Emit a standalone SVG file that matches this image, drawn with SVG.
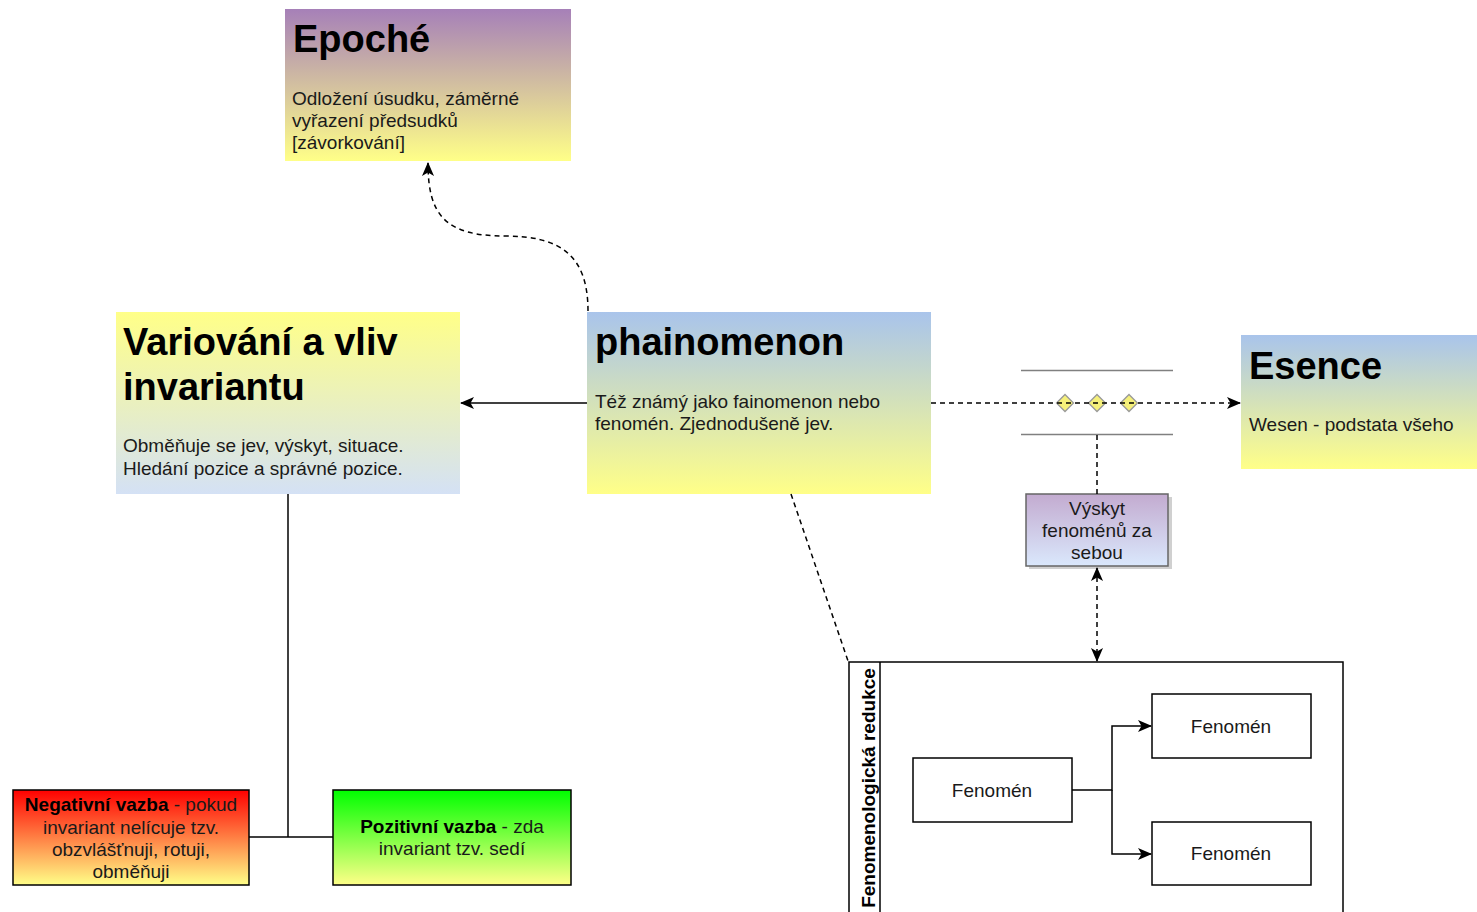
<svg xmlns="http://www.w3.org/2000/svg" width="1477" height="912" viewBox="0 0 1477 912">
  <style>
    text { font-family: "Liberation Sans", Arial, sans-serif; }
    .title { font-size: 38px; font-weight: bold; fill: #000; }
    .body { font-size: 19px; fill: #1a1a1a; }
    .mid { font-size: 19px; fill: #1a1a1a; text-anchor: middle; }
    .b { font-weight: bold; fill: #000; }
    .solid { fill: none; stroke: #000; stroke-width: 1.5; }
    .dash { fill: none; stroke: #000; stroke-width: 1.5; stroke-dasharray: 5 4; }
    .box { stroke: #000; stroke-width: 1.5; }
    .plain { fill: #fff; stroke: #000; stroke-width: 1.5; }
  </style>
  <defs>
    <linearGradient id="gEpoche" x1="0" y1="0" x2="0" y2="1">
      <stop offset="0" stop-color="#a680b8"/>
      <stop offset="1" stop-color="#ffff88"/>
    </linearGradient>
    <linearGradient id="gVar" x1="0" y1="0" x2="0" y2="1">
      <stop offset="0" stop-color="#ffff88"/>
      <stop offset="1" stop-color="#d4e1f5"/>
    </linearGradient>
    <linearGradient id="gBlue" x1="0" y1="0" x2="0" y2="1">
      <stop offset="0" stop-color="#a9c4eb"/>
      <stop offset="1" stop-color="#ffff88"/>
    </linearGradient>
    <linearGradient id="gVyskyt" x1="0" y1="0" x2="0" y2="1">
      <stop offset="0" stop-color="#c3abd0"/>
      <stop offset="1" stop-color="#dae8fc"/>
    </linearGradient>
    <linearGradient id="gRed" x1="0" y1="0" x2="0" y2="1">
      <stop offset="0" stop-color="#ff0000"/>
      <stop offset="1" stop-color="#ffff88"/>
    </linearGradient>
    <linearGradient id="gGreen" x1="0" y1="0" x2="0" y2="1">
      <stop offset="0" stop-color="#00ff00"/>
      <stop offset="1" stop-color="#ffff88"/>
    </linearGradient>
    <marker id="arrow" viewBox="0 0 14 12" refX="13" refY="6" markerWidth="14" markerHeight="12" markerUnits="userSpaceOnUse" orient="auto-start-reverse">
      <path d="M0,0 L14,6 L0,12 L3.5,6 Z" fill="#000"/>
    </marker>
  </defs>

  <!-- Epoché -->
  <g id="epoche">
    <rect x="285" y="9" width="286" height="152" fill="url(#gEpoche)"/>
    <text class="title" x="293" y="52">Epoché</text>
    <text class="body" x="292" y="105">Odložení úsudku, záměrné</text>
    <text class="body" x="292" y="127">vyřazení předsudků</text>
    <text class="body" x="292" y="149">[závorkování]</text>
  </g>

  <!-- Variování a vliv invariantu -->
  <g id="variovani">
    <rect x="116" y="312" width="344" height="182" fill="url(#gVar)"/>
    <text class="title" x="123" y="355">Variování a vliv</text>
    <text class="title" x="123" y="400">invariantu</text>
    <text class="body" x="123" y="452">Obměňuje se jev, výskyt, situace.</text>
    <text class="body" x="123" y="475">Hledání pozice a správné pozice.</text>
  </g>

  <!-- phainomenon -->
  <g id="phainomenon">
    <rect x="587" y="312" width="344" height="182" fill="url(#gBlue)"/>
    <text class="title" x="595" y="355">phainomenon</text>
    <text class="body" x="595" y="408">Též známý jako fainomenon nebo</text>
    <text class="body" x="595" y="430">fenomén. Zjednodušeně jev.</text>
  </g>

  <!-- Esence -->
  <g id="esence">
    <rect x="1241" y="335" width="236" height="134" fill="url(#gBlue)"/>
    <text class="title" x="1249" y="379">Esence</text>
    <text class="body" x="1249" y="431">Wesen - podstata všeho</text>
  </g>

  <!-- sequence marker: rails with three diamonds -->
  <g id="sled">
    <line x1="1021" y1="370.5" x2="1173" y2="370.5" stroke="#808080" stroke-width="1.5"/>
    <line x1="1021" y1="434.5" x2="1173" y2="434.5" stroke="#808080" stroke-width="1.5"/>
    <path d="M1065,394.5 L1073.5,403 L1065,411.5 L1056.5,403 Z" fill="#f5f07a" stroke="#999" stroke-width="1.3"/>
    <path d="M1097,394.5 L1105.5,403 L1097,411.5 L1088.5,403 Z" fill="#f5f07a" stroke="#999" stroke-width="1.3"/>
    <path d="M1129,394.5 L1137.5,403 L1129,411.5 L1120.5,403 Z" fill="#f5f07a" stroke="#999" stroke-width="1.3"/>
  </g>

  <!-- Výskyt fenoménů za sebou -->
  <g id="vyskyt">
    <rect x="1029" y="497" width="143" height="72" fill="#d0d0d0"/>
    <rect x="1026" y="494" width="142" height="72" fill="url(#gVyskyt)" stroke="#666" stroke-width="1.5"/>
    <text class="mid" x="1097" y="515">Výskyt</text>
    <text class="mid" x="1097" y="537">fenoménů za</text>
    <text class="mid" x="1097" y="559">sebou</text>
  </g>

  <!-- Fenomenologická redukce (pool) -->
  <g id="redukce">
    <rect x="849" y="662" width="494" height="270" fill="#fff" stroke="#000" stroke-width="1.5"/>
    <line x1="880" y1="662" x2="880" y2="932" stroke="#000" stroke-width="1.5"/>
    <text transform="translate(875,788) rotate(-90)" text-anchor="middle" font-size="19" font-weight="bold" fill="#000">Fenomenologická redukce</text>
  </g>

  <g id="fenomen1">
    <rect class="plain" x="913" y="758" width="159" height="64"/>
    <text class="mid" x="992" y="797">Fenomén</text>
  </g>
  <g id="fenomen2">
    <rect class="plain" x="1152" y="694" width="159" height="64"/>
    <text class="mid" x="1231" y="733">Fenomén</text>
  </g>
  <g id="fenomen3">
    <rect class="plain" x="1152" y="822" width="159" height="63"/>
    <text class="mid" x="1231" y="860">Fenomén</text>
  </g>

  <!-- Negativní vazba -->
  <g id="negativni">
    <rect class="box" x="13" y="790" width="236" height="95" fill="url(#gRed)"/>
    <text class="mid" x="131" y="811"><tspan class="b">Negativní vazba</tspan> - pokud</text>
    <text class="mid" x="131" y="834">invariant nelícuje tzv.</text>
    <text class="mid" x="131" y="856">obzvlášťnuji, rotuji,</text>
    <text class="mid" x="131" y="878">obměňuji</text>
  </g>

  <!-- Pozitivní vazba -->
  <g id="pozitivni">
    <rect class="box" x="333" y="790" width="238" height="95" fill="url(#gGreen)"/>
    <text class="mid" x="452" y="833"><tspan class="b">Pozitivní vazba</tspan> - zda</text>
    <text class="mid" x="452" y="855">invariant tzv. sedí</text>
  </g>

  <!-- connectors -->
  <g id="connectors">
    <path class="dash" d="M588,311 C588,255 560,236 505,236 C445,236 428,215 428,163" marker-end="url(#arrow)"/>
    <path class="solid" d="M587,403 L461,403" marker-end="url(#arrow)"/>
    <path class="dash" d="M931,403 L1240,403" marker-end="url(#arrow)"/>
    <path class="dash" d="M1097,435 L1097,494"/>
    <path class="dash" d="M1097,568 L1097,661" marker-start="url(#arrow)" marker-end="url(#arrow)"/>
    <path class="dash" d="M791,494 L848,661"/>
    <path class="solid" d="M288,494 L288,837"/>
    <path class="solid" d="M249,837 L333,837"/>
    <path class="solid" d="M1072,790 L1112,790 L1112,726 L1151,726" marker-end="url(#arrow)"/>
    <path class="solid" d="M1112,790 L1112,854 L1151,854" marker-end="url(#arrow)"/>
  </g>
</svg>
